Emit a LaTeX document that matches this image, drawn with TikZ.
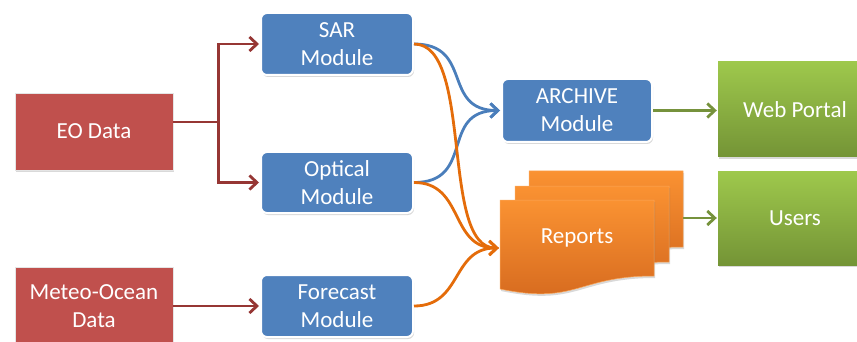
\documentclass[tikz,border=0pt]{standalone}
\usepackage{fontspec}
\setmainfont{Carlito}
\usetikzlibrary{arrows.meta,shadows}

\definecolor{srcred}{RGB}{192,80,77}
\definecolor{modblue}{RGB}{79,129,189}
\definecolor{linkred}{RGB}{150,54,52}
\definecolor{linkblue}{RGB}{74,126,187}
\definecolor{linkorange}{RGB}{228,108,10}
\definecolor{linkgreen}{RGB}{118,146,60}
\definecolor{greentop}{RGB}{158,200,76}
\definecolor{greenbot}{RGB}{116,148,54}
\definecolor{orangetop}{RGB}{250,146,50}
\definecolor{orangebot}{RGB}{212,104,30}

\begin{document}
\begin{tikzpicture}[x=1pt,y=-1pt,
  box/.style={inner sep=0pt, text=white, align=center,
    font=\fontsize{23}{28}\selectfont},
  softshadow/.style={drop shadow={shadow xshift=1pt, shadow yshift=-2pt,
    opacity=0.25, fill=black!60}},
  srcbox/.style={box, fill=srcred, draw=black!10, line width=0.8pt,
    minimum width=158pt, minimum height=77pt, softshadow},
  modbox/.style={box, fill=modblue, draw=white, line width=2pt,
    rounded corners=6pt, minimum width=152pt, minimum height=62pt, softshadow},
  outbox/.style={box, top color=greentop, bottom color=greenbot,
    minimum width=154pt, softshadow},
  pagestyle/.style={top color=orangetop, bottom color=orangebot,
    draw=orangetop!80!white, line width=0.5pt, softshadow},
  frame/.style={inner sep=0pt, minimum width=154pt, minimum height=76pt},
  link/.style={line width=2.8pt,
    -{Straight Barb[length=7.5pt,width=14pt,line width=2.8pt]}, shorten >=1pt},
  redlink/.style={link, draw=linkred},
  bluelink/.style={link, draw=linkblue},
  orangelink/.style={link, draw=linkorange},
  greenlink/.style={link, draw=linkgreen}]

\useasboundingbox (0,0) rectangle (857,342);
\clip (0,0) rectangle (857,342);

% data sources
\node[srcbox] (eo) at (94,131.5) {EO Data};
\node[srcbox, minimum height=78pt] (meteo) at (94,306) {Meteo-Ocean\\Data};

% processing modules
\node[modbox] (sar) at (337,44) {SAR\\Module};
\node[modbox, minimum height=61pt] (optical) at (337,182.5) {Optical\\Module};
\node[modbox] (forecast) at (337,306) {Forecast\\Module};
\node[modbox, minimum width=150pt, minimum height=63pt] (archive) at (577,110.5) {ARCHIVE\\Module};

% outputs
\node[outbox, minimum height=95pt] (web) at (795,109.5) {Web Portal};
\node[outbox, minimum height=93pt] (users) at (795,218.5) {Users};

% stack of report pages, back to front
\foreach \px/\py in {529/171, 515/186, 500/200} {
  \path[pagestyle] (\px,\py) -- (\px+154,\py) -- (\px+154,\py+76)
    .. controls (\px+77,\py+76) and (\px+77,\py+105) .. (\px,\py+89) -- cycle;
}
\node[frame] (backpage) at (606,209) {};
\node[frame, box] (reports) at (577,238) {Reports};

% inputs to modules
\draw[redlink] ([yshift=9.5pt]eo.east) -- ++(45,0) |- (sar.west);
\draw[redlink] ([yshift=9.5pt]eo.east) -- ++(45,0) |- (optical.west);
\draw[redlink] (meteo.east) -- (forecast.west);

% modules to archive
\draw[bluelink] (sar.east) to[out=0,in=180,looseness=1.4] (archive.west);
\draw[bluelink] (optical.east) to[out=0,in=180,looseness=1.4] (archive.west);

% modules to reports
\draw[orangelink] (sar.east) .. controls +(60,0) and +(-60,0) .. ([yshift=-10pt]reports.west);
\draw[orangelink] (optical.east) to[out=0,in=180,looseness=1.2] ([yshift=-10pt]reports.west);
\draw[orangelink] (forecast.east) to[out=0,in=180,looseness=1.2] ([yshift=-10pt]reports.west);

% delivery
\draw[greenlink] (archive.east) -- (archive.east -| web.west);
\draw[greenlink] ([yshift=-9pt]backpage.east) -- ([yshift=-9pt]backpage.east -| users.west);
\end{tikzpicture}
\end{document}
